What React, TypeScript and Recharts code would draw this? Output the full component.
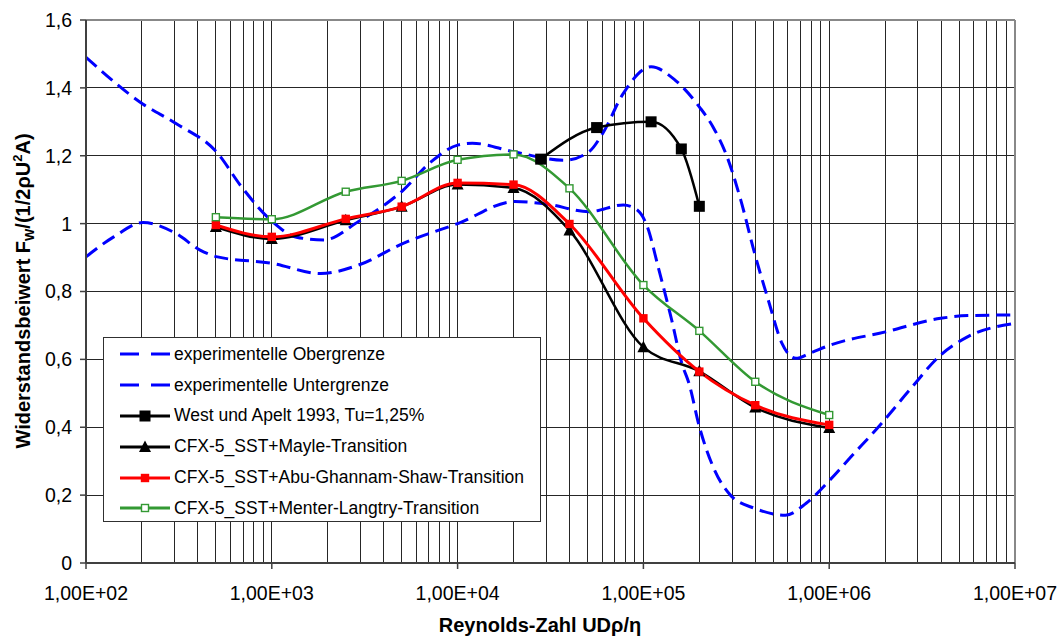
import {
  LineChart,
  Line,
  XAxis,
  YAxis,
  CartesianGrid,
  ReferenceLine,
  Legend,
} from "recharts";

// experimentelle Obergrenze
const upperRe = [100, 203, 305, 510, 686, 1007, 1358, 1905, 2930, 5100, 7190, 10100, 12000, 20000, 37800, 51000, 60400, 78000, 110000, 148000, 200000, 237000, 282000, 334000, 397000, 470000, 557000, 662000, 786000, 1010000, 2010000, 3980000, 5580000, 10000000];
const upperCw = [1.49, 1.352, 1.295, 1.208, 1.109, 1.006, 0.96, 0.952, 1.006, 1.099, 1.182, 1.232, 1.237, 1.212, 1.187, 1.212, 1.266, 1.384, 1.462, 1.423, 1.344, 1.285, 1.197, 1.07, 0.912, 0.775, 0.647, 0.603, 0.618, 0.642, 0.681, 0.721, 0.729, 0.731];

// experimentelle Untergrenze
const lowerRe = [100, 141, 203, 305, 411, 510, 1007, 1834, 2930, 5100, 10100, 20300, 30000, 51000, 78000, 92700, 105000, 120000, 142000, 161000, 176000, 200000, 237000, 294000, 397000, 582000, 752000, 1010000, 1310000, 1850000, 2710000, 3980000, 5580000, 10000000];
const lowerCw = [0.902, 0.961, 1.003, 0.971, 0.922, 0.902, 0.883, 0.853, 0.878, 0.942, 1.001, 1.065, 1.058, 1.035, 1.055, 1.04, 0.991, 0.873, 0.716, 0.588, 0.529, 0.402, 0.284, 0.2, 0.161, 0.141, 0.176, 0.245, 0.313, 0.402, 0.51, 0.613, 0.667, 0.706];

// West und Apelt 1993
const westRe = [28000, 56000, 110000, 160000, 200000];
const westCw = [1.19, 1.283, 1.3, 1.22, 1.051];

// CFX-5 simulations
const simRe = [500, 1000, 2500, 5000, 10000, 20000, 40000, 100000, 200000, 400000, 1000000];
const mayleCw = [0.99, 0.955, 1.01, 1.05, 1.115, 1.105, 0.98, 0.636, 0.565, 0.458, 0.398];
const abuCw = [0.996, 0.961, 1.014, 1.05, 1.12, 1.115, 0.999, 0.721, 0.564, 0.465, 0.407];
const menterCw = [1.019, 1.013, 1.094, 1.126, 1.188, 1.204, 1.104, 0.819, 0.684, 0.534, 0.436];

const xTicks = [1e2, 1e3, 1e4, 1e5, 1e6, 1e7];
const yTicks = [0, 0.2, 0.4, 0.6, 0.8, 1, 1.2, 1.4, 1.6];
const decades = [1e2, 1e3, 1e4, 1e5, 1e6];
const gridRe = decades.flatMap((d) => [2, 3, 4, 5, 6, 7, 8, 9, 10].map((m) => m * d));

const toRows = (re: number[], cw: number[]) => re.map((r, i) => ({ re: r, cw: cw[i] }));

const FONT = '"Liberation Sans", Arial, sans-serif';

type MarkerKind = "none" | "bigSquare" | "triangle" | "square" | "hollow";

function marker(kind: MarkerKind, color: string, cx: number, cy: number, key?: string) {
  switch (kind) {
    case "bigSquare":
      return <rect key={key} x={cx - 5.5} y={cy - 5.5} width={11} height={11} fill={color} />;
    case "triangle":
      return <path key={key} d={`M${cx},${cy - 6.5} L${cx + 6},${cy + 5} L${cx - 6},${cy + 5} Z`} fill={color} />;
    case "square":
      return <rect key={key} x={cx - 4.2} y={cy - 4.2} width={8.4} height={8.4} fill={color} />;
    case "hollow":
      return <rect key={key} x={cx - 3.5} y={cy - 3.5} width={7} height={7} fill="#fff" stroke={color} strokeWidth={1.4} />;
    default:
      return <g key={key} />;
  }
}

const series = [
  { name: "experimentelle Obergrenze", data: toRows(upperRe, upperCw), color: "#0000ff", dash: "14 7", width: 3, mark: "none" as MarkerKind },
  { name: "experimentelle Untergrenze", data: toRows(lowerRe, lowerCw), color: "#0000ff", dash: "14 7", width: 3, mark: "none" as MarkerKind },
  { name: "West und Apelt 1993, Tu=1,25%", data: toRows(westRe, westCw), color: "#000000", dash: undefined, width: 2.5, mark: "bigSquare" as MarkerKind },
  { name: "CFX-5_SST+Mayle-Transition", data: toRows(simRe, mayleCw), color: "#000000", dash: undefined, width: 2.5, mark: "triangle" as MarkerKind },
  { name: "CFX-5_SST+Abu-Ghannam-Shaw-Transition", data: toRows(simRe, abuCw), color: "#ff0000", dash: undefined, width: 3, mark: "square" as MarkerKind },
  { name: "CFX-5_SST+Menter-Langtry-Transition", data: toRows(simRe, menterCw), color: "#339933", dash: undefined, width: 2.5, mark: "hollow" as MarkerKind },
];

const fmtX = (v: number) => {
  const e = Math.round(Math.log10(v));
  return `1,00E+${String(e).padStart(2, "0")}`;
};
const fmtY = (v: number) => (Number.isInteger(v) ? String(v) : v.toFixed(1).replace(".", ","));

function LegendBox() {
  return (
    <div
      style={{
        width: 438,
        height: 185,
        boxSizing: "border-box",
        border: "1.5px solid #303030",
        background: "#fff",
        paddingTop: 1,
        fontFamily: FONT,
        fontSize: 17.5,
        color: "#000",
      }}
    >
      {series.map((s) => (
        <div key={s.name} style={{ display: "flex", alignItems: "center", height: 30.8 }}>
          <svg width={70} height={20} style={{ flex: "none" }}>
            <line
              x1={16}
              x2={66}
              y1={10}
              y2={10}
              stroke={s.color}
              strokeWidth={3}
              strokeDasharray={s.dash ? "19 12" : undefined}
            />
            {marker(s.mark, s.color, 41, 10)}
          </svg>
          <span style={{ whiteSpace: "nowrap" }}>{s.name}</span>
        </div>
      ))}
    </div>
  );
}

function YTitle() {
  return (
    <text
      transform="translate(30,291) rotate(-90)"
      x={0}
      y={0}
      textAnchor="middle"
      fontFamily={FONT}
      fontWeight="bold"
      fontSize={20}
      fill="#000"
    >
      Widerstandsbeiwert F
      <tspan fontSize={13} dy={4}>W</tspan>
      <tspan dy={-4}>/(1/2ρU</tspan>
      <tspan fontSize={13} dy={-8}>2</tspan>
      <tspan dy={8}>A)</tspan>
    </text>
  );
}

function XTitle() {
  return (
    <text x={540} y={632} textAnchor="middle" fontFamily={FONT} fontWeight="bold" fontSize={20} fill="#000">
      Reynolds-Zahl UDρ/η
    </text>
  );
}

export default function App() {
  return (
    <div style={{ position: "absolute", left: 0, top: 0, width: 1061, height: 638, background: "#fff" }}>
      <LineChart
        width={1061}
        height={638}
        margin={{ top: 20, right: 46, bottom: 35, left: 30 }}
        style={{ fontFamily: FONT }}
      >
        <CartesianGrid horizontal vertical={false} stroke="#262626" strokeWidth={1} shapeRendering="crispEdges" />
        {gridRe.map((v) => (
          <ReferenceLine key={v} x={v} stroke="#262626" strokeWidth={1} shapeRendering="crispEdges" />
        ))}
        <ReferenceLine y={1.6} stroke="#888" strokeWidth={2} />
        <ReferenceLine x={1e7} stroke="#888" strokeWidth={2} />
        <XAxis
          dataKey="re"
          type="number"
          scale="log"
          domain={[100, 1e7]}
          ticks={xTicks}
          tickFormatter={fmtX}
          allowDataOverflow
          height={40}
          tickSize={6}
          tickMargin={17}
          axisLine={{ stroke: "#404040", strokeWidth: 2 }}
          tickLine={{ stroke: "#404040", strokeWidth: 1.5 }}
          tick={{ fill: "#000", fontSize: 19.5 }}
          label={{ content: () => <XTitle /> }}
        />
        <YAxis
          type="number"
          domain={[0, 1.6]}
          ticks={yTicks}
          tickFormatter={fmtY}
          width={56}
          tickSize={6}
          tickMargin={8}
          axisLine={{ stroke: "#404040", strokeWidth: 2 }}
          tickLine={{ stroke: "#404040", strokeWidth: 1.5 }}
          tick={{ fill: "#000", fontSize: 19.5 }}
          label={{ content: () => <YTitle /> }}
        />
        {series.map((s) => (
          <Line
            key={s.name}
            name={s.name}
            data={s.data}
            dataKey="cw"
            type="monotone"
            stroke={s.color}
            strokeWidth={s.width}
            strokeDasharray={s.dash}
            dot={
              s.mark === "none"
                ? false
                : (p: any) => marker(s.mark, s.color, p.cx, p.cy, `${s.name}-${p.index}`)
            }
            activeDot={false}
            isAnimationActive={false}
            legendType="none"
          />
        ))}
        <Legend
          layout="horizontal"
          verticalAlign="middle"
          align="center"
          wrapperStyle={{ position: "absolute", left: 103, top: 337, width: 438, height: 185 }}
          content={() => <LegendBox />}
        />
      </LineChart>
    </div>
  );
}
